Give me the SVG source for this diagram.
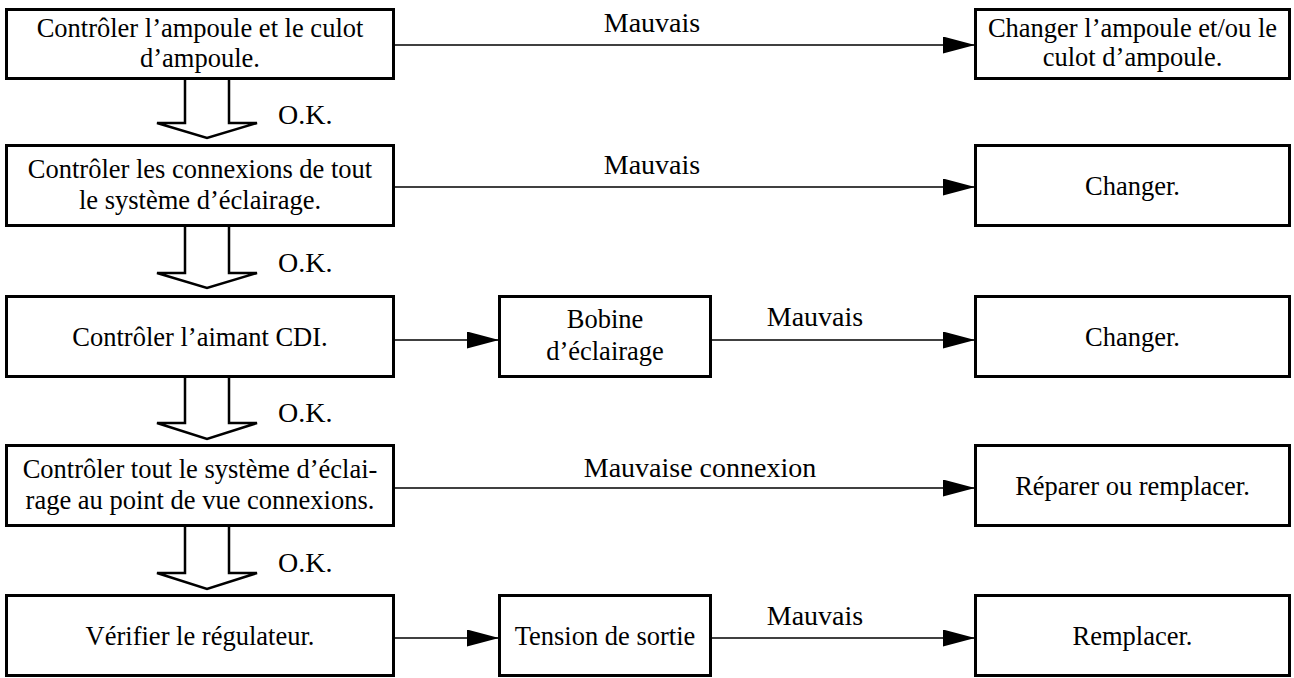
<svg xmlns="http://www.w3.org/2000/svg" width="1294" height="678" viewBox="0 0 1294 678">
<defs>
<style>
.box{fill:#fff;stroke:#000;stroke-width:3}
text{font-family:'Liberation Serif','Times New Roman',Times,serif;fill:#000}
.t{font-size:26.5px;text-anchor:middle}
.lbl{font-size:28px}
.mid{text-anchor:middle}
.ln{stroke:#000;stroke-width:1.5;fill:none}
.hol{fill:#fff;stroke:#000;stroke-width:2.5;stroke-linejoin:miter}
</style>
<marker id="ah" viewBox="0 0 32 17" refX="32" refY="8.5" markerWidth="32" markerHeight="17" markerUnits="userSpaceOnUse" orient="auto">
<path d="M0,0 L32,8.5 L0,17 Z" fill="#000"/>
</marker>
</defs>
<rect width="1294" height="678" fill="#fff"/>

<g id="connectors">
<line class="ln" x1="394" y1="45" x2="975" y2="45" marker-end="url(#ah)"/>
<line class="ln" x1="394" y1="187" x2="975" y2="187" marker-end="url(#ah)"/>
<line class="ln" x1="394" y1="340" x2="499" y2="340" marker-end="url(#ah)"/>
<line class="ln" x1="711" y1="340" x2="975" y2="340" marker-end="url(#ah)"/>
<line class="ln" x1="394" y1="488" x2="975" y2="488" marker-end="url(#ah)"/>
<line class="ln" x1="394" y1="638" x2="499" y2="638" marker-end="url(#ah)"/>
<line class="ln" x1="711" y1="638" x2="975" y2="638" marker-end="url(#ah)"/>
<path class="hol" d="M185,79 L185,123 L157,123 L207,138 L257,123 L229,123 L229,79"/>
<path class="hol" d="M185,227 L185,273 L157,273 L207,288 L257,273 L229,273 L229,227"/>
<path class="hol" d="M185,378 L185,423 L157,423 L207,439 L257,423 L229,423 L229,378"/>
<path class="hol" d="M185,527 L185,573 L157,573 L207,589 L257,573 L229,573 L229,527"/>
<text class="lbl mid" x="652" y="32">Mauvais</text>
<text class="lbl mid" x="652" y="174">Mauvais</text>
<text class="lbl mid" x="815" y="326">Mauvais</text>
<text class="lbl mid" x="700" y="477">Mauvaise connexion</text>
<text class="lbl mid" x="815" y="625">Mauvais</text>
<text class="lbl" x="278" y="124">O.K.</text>
<text class="lbl" x="278" y="272">O.K.</text>
<text class="lbl" x="278" y="422">O.K.</text>
<text class="lbl" x="278" y="572">O.K.</text>
</g>

<g id="n1">
<rect class="box" x="6.5" y="9.5" width="387" height="69"/>
<text class="t" x="200" y="37">Contrôler l’ampoule et le culot</text>
<text class="t" x="200" y="67">d’ampoule.</text>
</g>
<g id="n1r">
<rect class="box" x="975.5" y="9.5" width="314" height="69"/>
<text class="t" x="1132.5" y="37">Changer l’ampoule et/ou le</text>
<text class="t" x="1132.5" y="66">culot d’ampoule.</text>
</g>

<g id="n2">
<rect class="box" x="6.5" y="145.5" width="387" height="80"/>
<text class="t" x="200" y="178">Contrôler les connexions de tout</text>
<text class="t" x="200" y="209">le système d’éclairage.</text>
</g>
<g id="n2r">
<rect class="box" x="975.5" y="145.5" width="314" height="80"/>
<text class="t" x="1132.5" y="195">Changer.</text>
</g>

<g id="n3">
<rect class="box" x="6.5" y="296.5" width="387" height="80"/>
<text class="t" x="200" y="346">Contrôler l’aimant CDI.</text>
</g>
<g id="n3m">
<rect class="box" x="499.5" y="296.5" width="211" height="80"/>
<text class="t" x="605" y="328">Bobine</text>
<text class="t" x="605" y="360">d’éclairage</text>
</g>
<g id="n3r">
<rect class="box" x="975.5" y="296.5" width="314" height="80"/>
<text class="t" x="1132.5" y="346">Changer.</text>
</g>

<g id="n4">
<rect class="box" x="6.5" y="445.5" width="387" height="80"/>
<text class="t" x="200" y="478">Contrôler tout le système d’éclai-</text>
<text class="t" x="200" y="509">rage au point de vue connexions.</text>
</g>
<g id="n4r">
<rect class="box" x="975.5" y="445.5" width="314" height="80"/>
<text class="t" x="1132.5" y="495">Réparer ou remplacer.</text>
</g>

<g id="n5">
<rect class="box" x="6.5" y="595.5" width="387" height="80"/>
<text class="t" x="200" y="645">Vérifier le régulateur.</text>
</g>
<g id="n5m">
<rect class="box" x="499.5" y="595.5" width="211" height="80"/>
<text class="t" x="605" y="645">Tension de sortie</text>
</g>
<g id="n5r">
<rect class="box" x="975.5" y="595.5" width="314" height="80"/>
<text class="t" x="1132.5" y="645">Remplacer.</text>
</g>
</svg>
